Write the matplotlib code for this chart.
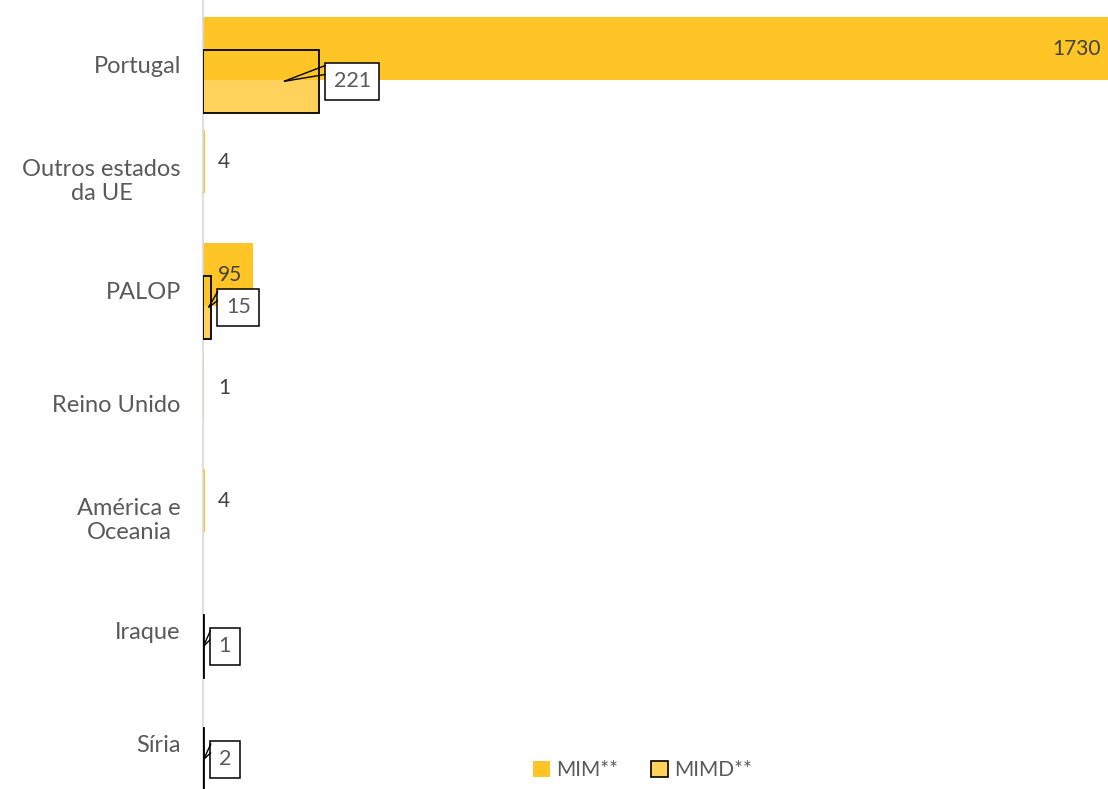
import numpy as np
import matplotlib
matplotlib.use("Agg")
import matplotlib.pyplot as plt
import matplotlib.transforms as mtransforms
from matplotlib.patches import Patch

# --- DADOS ---
categorias = ["Portugal", "Outros estados\nda UE", "PALOP", "Reino Unido",
              "América e\nOceania", "Iraque", "Síria"]
mim = [1730, 4, 95, 1, 4, np.nan, np.nan]
mimd = [221, np.nan, 15, np.nan, np.nan, 1, 2]

cor_mim = "#FFC425"
cor_texto = "#404040"
cor_eixo = "#595959"

plt.rcParams["font.family"] = ["Lato", "DejaVu Sans"]

fig = plt.figure(figsize=(11.08, 7.89), dpi=100)
ax = fig.add_axes([203 / 1108, 0, 905 / 1108, 1])

y = np.arange(len(categorias))
altura = 0.56
desvio = 0.145

ax.barh(y - desvio, mim, height=altura, color=cor_mim, zorder=2)
ax.barh(y + desvio, mimd, height=altura, facecolor=(1, 0.769, 0.145, 0.75),
        edgecolor="black", linewidth=1.3, zorder=3)

ax.set_xlim(0, 1730)
ax.set_ylim(6.407, -0.575)

# rótulos MIM
for i, v in enumerate(mim):
    if np.isnan(v):
        continue
    if v > 1000:
        ax.annotate(f"{v:.0f}", xy=(v, i - desvio), xytext=(-5, 0),
                    textcoords="offset points", ha="right", va="center",
                    fontsize=15, color=cor_texto, zorder=5)
    else:
        ax.annotate(f"{v:.0f}", xy=(0, i - desvio), xytext=(11, 0),
                    textcoords="offset points", ha="left", va="center",
                    fontsize=15, color=cor_texto, zorder=5)

# rótulos MIMD (caixas com chamada)
inv = ax.transData.inverted()
for i, v in enumerate(mimd):
    if np.isnan(v):
        continue
    yc = i + desvio
    pos_texto = mtransforms.offset_copy(ax.transData, fig=fig, x=15, y=0, units="dots")
    ax.annotate(f"{v:.0f}", xy=(v, yc), xycoords=pos_texto,
                ha="left", va="center", fontsize=15.5, color=cor_eixo, zorder=6,
                bbox=dict(boxstyle="square,pad=0.4", fc="white", ec="black", lw=1.1))
    # ponteiro da chamada: duas linhas da barra até à borda da caixa
    px, py = ax.transData.transform((0.7 * v, yc))
    bx, by = ax.transData.transform((v, yc))
    bx += 7
    for dy in (16, 7):
        (x0, y0), (x1, y1) = inv.transform([(px, py), (bx, by + dy)])
        ax.plot([x0, x1], [y0, y1], color="black", lw=1.0, zorder=7,
                solid_capstyle="butt")

ax.set_yticks(y)
ax.set_yticklabels(categorias, fontsize=17, color=cor_eixo, multialignment="center")
ax.tick_params(axis="y", length=0, pad=16)
ax.set_xticks([])
for s in ["top", "right", "bottom"]:
    ax.spines[s].set_visible(False)
ax.spines["left"].set_color("#D9D9D9")
ax.spines["left"].set_linewidth(1.2)

handles = [Patch(facecolor=cor_mim, edgecolor="none"),
           Patch(facecolor=(1, 0.769, 0.145, 0.75), edgecolor="black", linewidth=1.2)]
fig.legend(handles, ["MIM**", "MIMD**"], loc="center", bbox_to_anchor=(0.58, 0.024),
           ncol=2, frameon=False, fontsize=15, handlelength=0.8, handleheight=0.8,
           handletextpad=0.3, columnspacing=1.6, labelcolor=cor_eixo)

plt.savefig("out.png", dpi=100)
